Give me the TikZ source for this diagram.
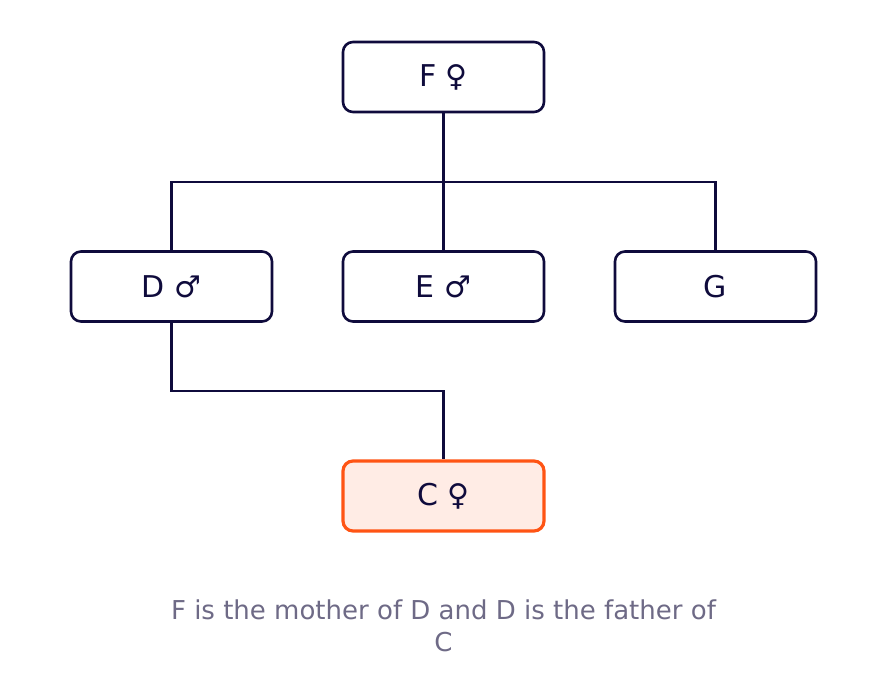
\documentclass[tikz,border=0pt]{standalone}
\usepackage{fontspec}
\setmainfont{DejaVu Sans}
\usepackage{xcolor}
\definecolor{navy}{HTML}{0F0B3C}
\definecolor{flame}{HTML}{FF5414}
\definecolor{peach}{HTML}{FFECE5}
\definecolor{slate}{HTML}{6E6A86}

\begin{document}
\begin{tikzpicture}[x=1pt, y=-1pt,
            every node/.style={
            text=navy, inner sep=0pt, text centered, font=\fontsize{30}{34}\selectfont}
        ]
        \tikzstyle {person} = [rectangle, rounded corners=10pt, draw=navy, line width=2.6pt, fill=white, minimum width=201pt, minimum height=70pt]
        \tikzstyle {target} = [person, draw=flame, fill=peach, line width=3.2pt]
        \tikzstyle {link} = [draw=navy, line width=2.3pt]
        \tikzstyle {caption} = [text=slate, align=center, font=\fontsize{26}{32}\selectfont]

        \useasboundingbox (0,0) rectangle (888,687);

        \node [person] (f) at (443.5,77) {F ♀};
        \node [person] (d) at (171.5,286.5) {D ♂};
        \node [person] (e) at (443.5,286.5) {E ♂};
        \node [person] (g) at (715.5,286.5) {G};
        \node [target] (c) at (443.5,496) {C ♀};

        \coordinate (fork) at (443.5,182);

        \draw [link] (f) -- (fork);
        \draw [link] (fork) -| (d);
        \draw [link] (fork) -- (e);
        \draw [link] (fork) -| (g);
        \draw [link] (d) -- ++(0,104.5) -| (c);

        \node [caption] (note) at (443.5,626) {F is the mother of D and D is the father of\\C};

        \end{tikzpicture}
\end{document}
